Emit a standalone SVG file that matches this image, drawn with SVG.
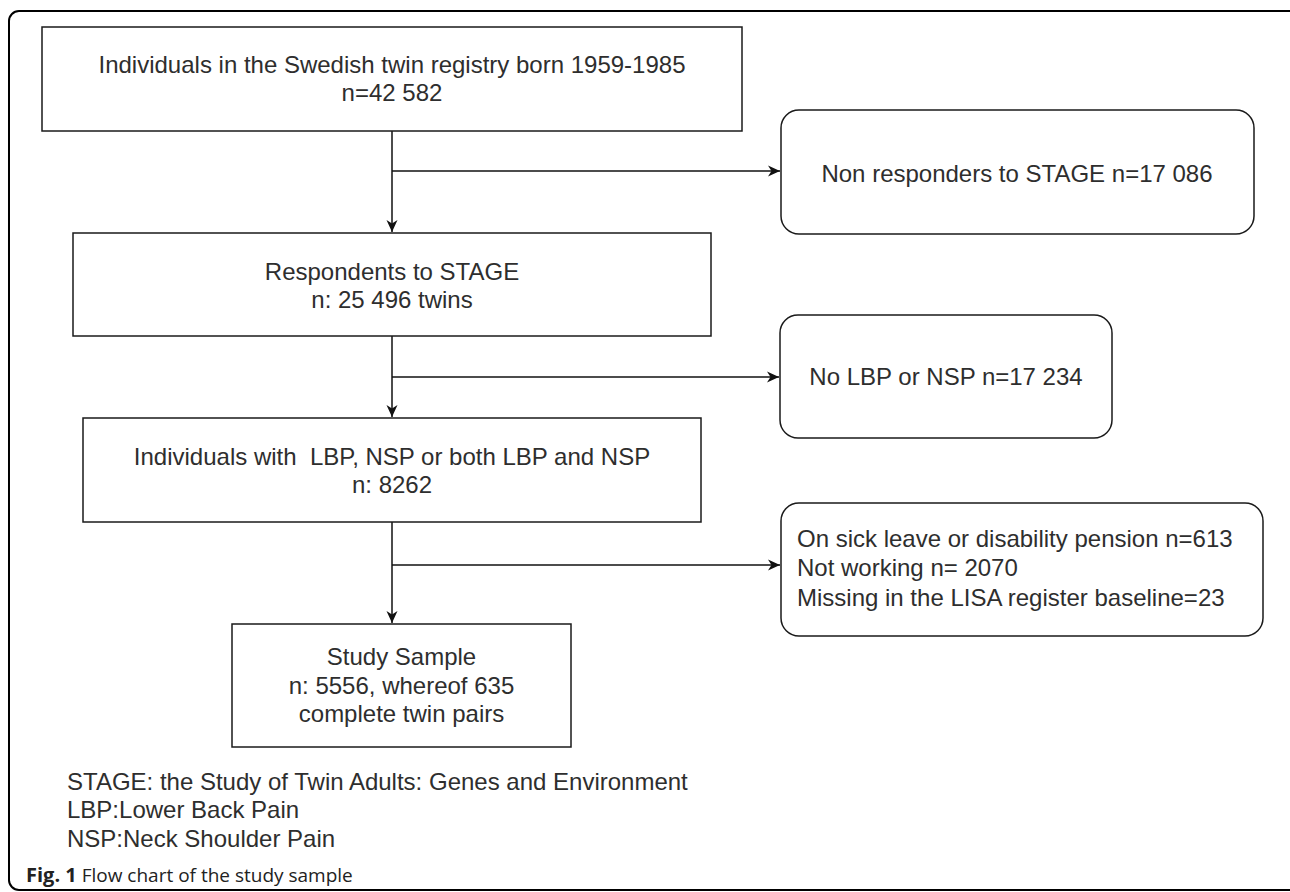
<svg xmlns="http://www.w3.org/2000/svg" width="1290" height="892" viewBox="0 0 1290 892">
<style>
.box{fill:#fff;stroke:#1a1a1a;stroke-width:1.5}
.t{font-family:"Liberation Sans",Arial,sans-serif;font-size:24px;fill:#2e2e2e}
.c{text-anchor:middle}
.edge{fill:none;stroke:#111;stroke-width:1.5}
.cap{font-family:"Open Sans",sans-serif;font-size:19px;fill:#222}
</style>
<defs>
<marker id="arr" markerUnits="userSpaceOnUse" markerWidth="14" markerHeight="14" refX="12" refY="7" orient="auto">
<path d="M0,1.5 L12,7 L0,12.5 L3.5,7 z" fill="#111"/>
</marker>
</defs>
<rect x="9" y="11" width="1295" height="879" rx="10" fill="none" stroke="#000" stroke-width="2"/>
<g id="connectors">
<path class="edge" d="M392,131 V232" marker-end="url(#arr)"/>
<path class="edge" d="M392,171 H780" marker-end="url(#arr)"/>
<path class="edge" d="M392,336 V417" marker-end="url(#arr)"/>
<path class="edge" d="M392,377 H779" marker-end="url(#arr)"/>
<path class="edge" d="M392,522 V623" marker-end="url(#arr)"/>
<path class="edge" d="M392,565 H780" marker-end="url(#arr)"/>
</g>
<g id="n1">
<rect class="box" x="42" y="27" width="700" height="104"/>
<text class="t c" x="392" y="73">Individuals in the Swedish twin registry born 1959-1985</text>
<text class="t c" x="392" y="101">n=42 582</text>
</g>
<g id="n2">
<rect class="box" x="781" y="110" width="473" height="124" rx="18"/>
<text class="t c" x="1017" y="182">Non responders to STAGE n=17 086</text>
</g>
<g id="n3">
<rect class="box" x="73" y="233" width="638" height="103"/>
<text class="t c" x="392" y="280">Respondents to STAGE</text>
<text class="t c" x="392" y="308">n: 25 496 twins</text>
</g>
<g id="n4">
<rect class="box" x="780" y="315" width="332" height="123" rx="18"/>
<text class="t c" x="946" y="385">No LBP or NSP n=17 234</text>
</g>
<g id="n5">
<rect class="box" x="83" y="418" width="618" height="104"/>
<text class="t c" x="392" y="465" xml:space="preserve">Individuals with  LBP, NSP or both LBP and NSP</text>
<text class="t c" x="392" y="493">n: 8262</text>
</g>
<g id="n6">
<rect class="box" x="781" y="503" width="482" height="133" rx="18"/>
<text class="t" x="797" y="547">On sick leave or disability pension n=613</text>
<text class="t" x="797" y="576">Not working n= 2070</text>
<text class="t" x="797" y="606">Missing in the LISA register baseline=23</text>
</g>
<g id="n7">
<rect class="box" x="232" y="624" width="339" height="123"/>
<text class="t c" x="401.5" y="665">Study Sample</text>
<text class="t c" x="401.5" y="694">n: 5556, whereof 635</text>
<text class="t c" x="401.5" y="722">complete twin pairs</text>
</g>
<g id="legend">
<text class="t" x="67" y="790">STAGE: the Study of Twin Adults: Genes and Environment</text>
<text class="t" x="67" y="818">LBP:Lower Back Pain</text>
<text class="t" x="67" y="847">NSP:Neck Shoulder Pain</text>
</g>
<text class="cap" x="26" y="882" xml:space="preserve"><tspan font-weight="bold" font-size="20px">Fig. 1</tspan> Flow chart of the study sample</text>
</svg>
